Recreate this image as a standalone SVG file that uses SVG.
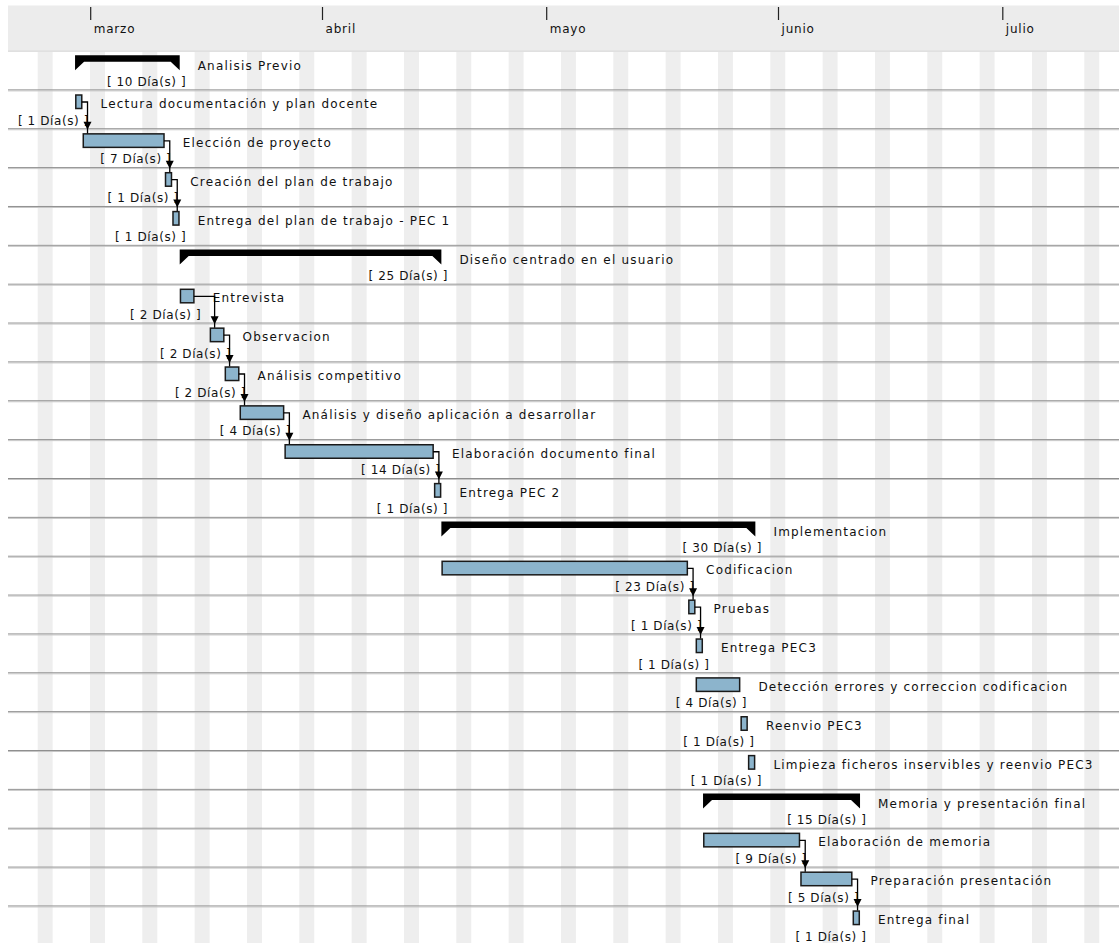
<svg xmlns="http://www.w3.org/2000/svg" width="1119" height="943" viewBox="0 0 1119 943">
<style>
text{font-family:"DejaVu Sans","Liberation Sans",sans-serif;font-size:12px;fill:#111}
.lbl{letter-spacing:1.2px}
.dur{letter-spacing:0.6px;text-anchor:end}
.mon{letter-spacing:0.8px}
.bar{fill:#8cb4cc;stroke:#1a1a1a;stroke-width:1.5}
.sum{fill:#000}
.wk{fill:#eeeeee}
.ln1{stroke:#8e8e8e;stroke-width:1}
.ln2{stroke:#c6c6c6;stroke-width:1}
.tick{stroke:#222;stroke-width:1.2}
.conn{fill:none;stroke:#000;stroke-width:1.3}
.ah{fill:#000}
</style>
<rect width="1119" height="943" fill="#fff"/>
<g id="header">
<rect x="8" y="5.5" width="1111" height="45.5" fill="#ececec"/>
<line x1="8" y1="51.2" x2="1119" y2="51.2" stroke="#d2d2d2" stroke-width="1"/>
<line class="tick" x1="90.7" y1="7" x2="90.7" y2="20"/>
<line class="tick" x1="322.5" y1="7" x2="322.5" y2="20"/>
<line class="tick" x1="546.7" y1="7" x2="546.7" y2="20"/>
<line class="tick" x1="778.5" y1="7" x2="778.5" y2="20"/>
<line class="tick" x1="1002.8" y1="7" x2="1002.8" y2="20"/>
<text class="mon" x="93.7" y="33">marzo</text>
<text class="mon" x="325.5" y="33">abril</text>
<text class="mon" x="549.7" y="33">mayo</text>
<text class="mon" x="781.5" y="33">junio</text>
<text class="mon" x="1005.8" y="33">julio</text>
</g>
<g id="weekends">
<rect class="wk" x="37.67" y="52" width="14.95" height="891"/>
<rect class="wk" x="90" y="52" width="14.95" height="891"/>
<rect class="wk" x="142.33" y="52" width="14.95" height="891"/>
<rect class="wk" x="194.66" y="52" width="14.95" height="891"/>
<rect class="wk" x="246.99" y="52" width="14.95" height="891"/>
<rect class="wk" x="299.32" y="52" width="14.95" height="891"/>
<rect class="wk" x="351.66" y="52" width="14.95" height="891"/>
<rect class="wk" x="403.99" y="52" width="14.95" height="891"/>
<rect class="wk" x="456.32" y="52" width="14.95" height="891"/>
<rect class="wk" x="508.65" y="52" width="14.95" height="891"/>
<rect class="wk" x="560.98" y="52" width="14.95" height="891"/>
<rect class="wk" x="613.31" y="52" width="14.95" height="891"/>
<rect class="wk" x="665.65" y="52" width="14.95" height="891"/>
<rect class="wk" x="717.98" y="52" width="14.95" height="891"/>
<rect class="wk" x="770.31" y="52" width="14.95" height="891"/>
<rect class="wk" x="822.64" y="52" width="14.95" height="891"/>
<rect class="wk" x="874.97" y="52" width="14.95" height="891"/>
<rect class="wk" x="927.3" y="52" width="14.95" height="891"/>
<rect class="wk" x="979.63" y="52" width="14.95" height="891"/>
<rect class="wk" x="1031.96" y="52" width="14.95" height="891"/>
<rect class="wk" x="1084.3" y="52" width="14.95" height="891"/>
</g>
<g id="rowlines">
<line class="ln1" x1="8" x2="1119" y1="89.9" y2="89.9"/><line class="ln2" x1="8" x2="1119" y1="90.9" y2="90.9"/>
<line class="ln1" x1="8" x2="1119" y1="128.76" y2="128.76"/><line class="ln2" x1="8" x2="1119" y1="129.76" y2="129.76"/>
<line class="ln1" x1="8" x2="1119" y1="167.62" y2="167.62"/><line class="ln2" x1="8" x2="1119" y1="168.62" y2="168.62"/>
<line class="ln1" x1="8" x2="1119" y1="206.48" y2="206.48"/><line class="ln2" x1="8" x2="1119" y1="207.48" y2="207.48"/>
<line class="ln1" x1="8" x2="1119" y1="245.34" y2="245.34"/><line class="ln2" x1="8" x2="1119" y1="246.34" y2="246.34"/>
<line class="ln1" x1="8" x2="1119" y1="284.2" y2="284.2"/><line class="ln2" x1="8" x2="1119" y1="285.2" y2="285.2"/>
<line class="ln1" x1="8" x2="1119" y1="323.06" y2="323.06"/><line class="ln2" x1="8" x2="1119" y1="324.06" y2="324.06"/>
<line class="ln1" x1="8" x2="1119" y1="361.92" y2="361.92"/><line class="ln2" x1="8" x2="1119" y1="362.92" y2="362.92"/>
<line class="ln1" x1="8" x2="1119" y1="400.78" y2="400.78"/><line class="ln2" x1="8" x2="1119" y1="401.78" y2="401.78"/>
<line class="ln1" x1="8" x2="1119" y1="439.64" y2="439.64"/><line class="ln2" x1="8" x2="1119" y1="440.64" y2="440.64"/>
<line class="ln1" x1="8" x2="1119" y1="478.5" y2="478.5"/><line class="ln2" x1="8" x2="1119" y1="479.5" y2="479.5"/>
<line class="ln1" x1="8" x2="1119" y1="517.36" y2="517.36"/><line class="ln2" x1="8" x2="1119" y1="518.36" y2="518.36"/>
<line class="ln1" x1="8" x2="1119" y1="556.22" y2="556.22"/><line class="ln2" x1="8" x2="1119" y1="557.22" y2="557.22"/>
<line class="ln1" x1="8" x2="1119" y1="595.08" y2="595.08"/><line class="ln2" x1="8" x2="1119" y1="596.08" y2="596.08"/>
<line class="ln1" x1="8" x2="1119" y1="633.94" y2="633.94"/><line class="ln2" x1="8" x2="1119" y1="634.94" y2="634.94"/>
<line class="ln1" x1="8" x2="1119" y1="672.8" y2="672.8"/><line class="ln2" x1="8" x2="1119" y1="673.8" y2="673.8"/>
<line class="ln1" x1="8" x2="1119" y1="711.66" y2="711.66"/><line class="ln2" x1="8" x2="1119" y1="712.66" y2="712.66"/>
<line class="ln1" x1="8" x2="1119" y1="750.52" y2="750.52"/><line class="ln2" x1="8" x2="1119" y1="751.52" y2="751.52"/>
<line class="ln1" x1="8" x2="1119" y1="789.38" y2="789.38"/><line class="ln2" x1="8" x2="1119" y1="790.38" y2="790.38"/>
<line class="ln1" x1="8" x2="1119" y1="828.24" y2="828.24"/><line class="ln2" x1="8" x2="1119" y1="829.24" y2="829.24"/>
<line class="ln1" x1="8" x2="1119" y1="867.1" y2="867.1"/><line class="ln2" x1="8" x2="1119" y1="868.1" y2="868.1"/>
<line class="ln1" x1="8" x2="1119" y1="905.96" y2="905.96"/><line class="ln2" x1="8" x2="1119" y1="906.96" y2="906.96"/>
</g>
<g id="t00-analisis-previo">
<polygon class="sum" points="75.05,55.14 179.71,55.14 179.71,70.14 170.71,61.64 84.05,61.64 75.05,70.14"/>
<text class="lbl" x="197.7" y="70.14">Analisis Previo</text>
<text class="dur" x="186.3" y="85.64">[ 10 Día(s) ]</text>
</g>
<g id="t01-lectura">
<rect class="bar" x="75.8" y="95" width="5.97" height="13.5"/>
<text class="lbl" x="100.5" y="108">Lectura documentación y plan docente</text>
<text class="dur" x="89.1" y="124.5">[ 1 Día(s) ]</text>
</g>
<g id="t02-eleccion">
<rect class="bar" x="83.27" y="133.86" width="80.74" height="13.5"/>
<text class="lbl" x="182.8" y="146.86">Elección de proyecto</text>
<text class="dur" x="171.4" y="163.36">[ 7 Día(s) ]</text>
</g>
<g id="t03-creacion">
<rect class="bar" x="165.51" y="172.72" width="5.98" height="13.5"/>
<text class="lbl" x="190.2" y="185.72">Creación del plan de trabajo</text>
<text class="dur" x="178.8" y="202.22">[ 1 Día(s) ]</text>
</g>
<g id="t04-entrega-plan">
<rect class="bar" x="172.99" y="211.58" width="5.97" height="13.5"/>
<text class="lbl" x="197.7" y="224.58">Entrega del plan de trabajo - PEC 1</text>
<text class="dur" x="186.3" y="241.08">[ 1 Día(s) ]</text>
</g>
<g id="t05-diseno">
<polygon class="sum" points="179.71,249.44 441.37,249.44 441.37,264.44 432.37,255.94 188.71,255.94 179.71,264.44"/>
<text class="lbl" x="459.4" y="264.44">Diseño centrado en el usuario</text>
<text class="dur" x="448" y="279.94">[ 25 Día(s) ]</text>
</g>
<g id="t06-entrevista">
<rect class="bar" x="180.46" y="289.3" width="13.45" height="13.5"/>
<text class="lbl" x="212.7" y="302.3">Entrevista</text>
<text class="dur" x="201.3" y="318.8">[ 2 Día(s) ]</text>
</g>
<g id="t07-observacion">
<rect class="bar" x="210.37" y="328.16" width="13.45" height="13.5"/>
<text class="lbl" x="242.6" y="341.16">Observacion</text>
<text class="dur" x="231.2" y="357.66">[ 2 Día(s) ]</text>
</g>
<g id="t08-analisis-competitivo">
<rect class="bar" x="225.32" y="367.02" width="13.45" height="13.5"/>
<text class="lbl" x="257.5" y="380.02">Análisis competitivo</text>
<text class="dur" x="246.1" y="396.52">[ 2 Día(s) ]</text>
</g>
<g id="t09-analisis-diseno">
<rect class="bar" x="240.27" y="405.88" width="43.36" height="13.5"/>
<text class="lbl" x="302.4" y="418.88">Análisis y diseño aplicación a desarrollar</text>
<text class="dur" x="291" y="435.38">[ 4 Día(s) ]</text>
</g>
<g id="t10-elaboracion-documento">
<rect class="bar" x="285.13" y="444.74" width="148.02" height="13.5"/>
<text class="lbl" x="451.9" y="457.74">Elaboración documento final</text>
<text class="dur" x="440.5" y="474.24">[ 14 Día(s) ]</text>
</g>
<g id="t11-entrega-pec2">
<rect class="bar" x="434.65" y="483.6" width="5.97" height="13.5"/>
<text class="lbl" x="459.4" y="496.6">Entrega PEC 2</text>
<text class="dur" x="448" y="513.1">[ 1 Día(s) ]</text>
</g>
<g id="t12-implementacion">
<polygon class="sum" points="441.37,521.46 755.36,521.46 755.36,536.46 746.36,527.96 450.37,527.96 441.37,536.46"/>
<text class="lbl" x="773.4" y="536.46">Implementacion</text>
<text class="dur" x="762" y="551.96">[ 30 Día(s) ]</text>
</g>
<g id="t13-codificacion">
<rect class="bar" x="442.12" y="561.32" width="245.21" height="13.5"/>
<text class="lbl" x="706.1" y="574.32">Codificacion</text>
<text class="dur" x="694.7" y="590.82">[ 23 Día(s) ]</text>
</g>
<g id="t14-pruebas">
<rect class="bar" x="688.83" y="600.18" width="5.98" height="13.5"/>
<text class="lbl" x="713.6" y="613.18">Pruebas</text>
<text class="dur" x="702.2" y="629.68">[ 1 Día(s) ]</text>
</g>
<g id="t15-entrega-pec3">
<rect class="bar" x="696.31" y="639.04" width="5.97" height="13.5"/>
<text class="lbl" x="721" y="652.04">Entrega PEC3</text>
<text class="dur" x="709.6" y="668.54">[ 1 Día(s) ]</text>
</g>
<g id="t16-deteccion">
<rect class="bar" x="696.31" y="677.9" width="43.35" height="13.5"/>
<text class="lbl" x="758.4" y="690.9">Detección errores y correccion codificacion</text>
<text class="dur" x="747" y="707.4">[ 4 Día(s) ]</text>
</g>
<g id="t17-reenvio">
<rect class="bar" x="741.16" y="716.76" width="5.98" height="13.5"/>
<text class="lbl" x="765.9" y="729.76">Reenvio PEC3</text>
<text class="dur" x="754.5" y="746.26">[ 1 Día(s) ]</text>
</g>
<g id="t18-limpieza">
<rect class="bar" x="748.64" y="755.62" width="5.97" height="13.5"/>
<text class="lbl" x="773.4" y="768.62">Limpieza ficheros inservibles y reenvio PEC3</text>
<text class="dur" x="762" y="785.12">[ 1 Día(s) ]</text>
</g>
<g id="t19-memoria">
<polygon class="sum" points="703.03,793.48 860.03,793.48 860.03,808.48 851.03,799.98 712.03,799.98 703.03,808.48"/>
<text class="lbl" x="878" y="808.48">Memoria y presentación final</text>
<text class="dur" x="866.6" y="823.98">[ 15 Día(s) ]</text>
</g>
<g id="t20-elaboracion-memoria">
<rect class="bar" x="703.78" y="833.34" width="95.69" height="13.5"/>
<text class="lbl" x="818.2" y="846.34">Elaboración de memoria</text>
<text class="dur" x="806.8" y="862.84">[ 9 Día(s) ]</text>
</g>
<g id="t21-preparacion">
<rect class="bar" x="800.97" y="872.2" width="50.83" height="13.5"/>
<text class="lbl" x="870.6" y="885.2">Preparación presentación</text>
<text class="dur" x="859.2" y="901.7">[ 5 Día(s) ]</text>
</g>
<g id="t22-entrega-final">
<rect class="bar" x="853.3" y="911.06" width="5.98" height="13.5"/>
<text class="lbl" x="878" y="924.06">Entrega final</text>
<text class="dur" x="866.6" y="940.56">[ 1 Día(s) ]</text>
</g>
<g id="connectors">
<path class="conn" d="M81.8,102 H87.52 V133.4"/><polygon class="ah" points="83.52,121.86 91.52,121.86 87.52,129.86"/>
<path class="conn" d="M164,140.86 H169.76 V172.2"/><polygon class="ah" points="165.76,160.72 173.76,160.72 169.76,168.72"/>
<path class="conn" d="M171.5,179.72 H177.24 V211.1"/><polygon class="ah" points="173.24,199.58 181.24,199.58 177.24,207.58"/>
<path class="conn" d="M193.9,296.3 H214.62 V327.7"/><polygon class="ah" points="210.62,316.16 218.62,316.16 214.62,324.16"/>
<path class="conn" d="M223.8,335.16 H229.57 V366.5"/><polygon class="ah" points="225.57,355.02 233.57,355.02 229.57,363.02"/>
<path class="conn" d="M238.8,374.02 H244.52 V405.4"/><polygon class="ah" points="240.52,393.88 248.52,393.88 244.52,401.88"/>
<path class="conn" d="M283.6,412.88 H289.38 V444.2"/><polygon class="ah" points="285.38,432.74 293.38,432.74 289.38,440.74"/>
<path class="conn" d="M433.1,451.74 H438.9 V483.1"/><polygon class="ah" points="434.9,471.6 442.9,471.6 438.9,479.6"/>
<path class="conn" d="M687.3,568.32 H693.08 V599.7"/><polygon class="ah" points="689.08,588.18 697.08,588.18 693.08,596.18"/>
<path class="conn" d="M694.8,607.18 H700.56 V638.5"/><polygon class="ah" points="696.56,627.04 704.56,627.04 700.56,635.04"/>
<path class="conn" d="M799.5,840.34 H805.22 V871.7"/><polygon class="ah" points="801.22,860.2 809.22,860.2 805.22,868.2"/>
<path class="conn" d="M851.8,879.2 H857.55 V910.5"/><polygon class="ah" points="853.55,899.06 861.55,899.06 857.55,907.06"/>
</g>
</svg>
